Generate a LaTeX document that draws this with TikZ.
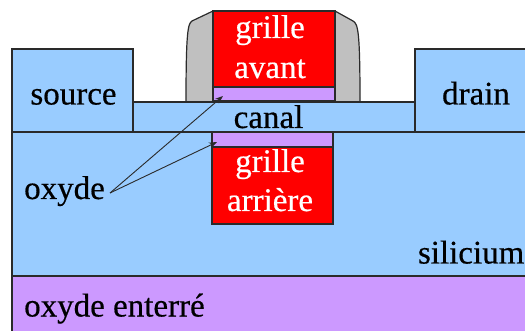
\documentclass[tikz,border=0pt]{standalone}
\usepackage{fontspec}
\setmainfont[RawFeature={embolden=0.5}]{Liberation Serif}
\usetikzlibrary{arrows.meta}
\definecolor{sil}{HTML}{99CCFF}
\definecolor{oxy}{HTML}{CC99FF}
\definecolor{gat}{HTML}{FF0000}
\definecolor{spc}{HTML}{C0C0C0}
\definecolor{edge}{HTML}{2A2A2A}
\tikzset{
  layer/.style={draw=edge,line width=1.4pt,inner sep=0pt,outer sep=0pt,anchor=north west},
  lbl/.style={inner sep=0pt,text=black,font=\fontsize{33}{33}\selectfont},
  wlbl/.style={lbl,text=white},
  pointer/.style={draw=edge,line width=0.9pt,-{Stealth[length=8pt,width=6pt]}}
}
\begin{document}
\begin{tikzpicture}[x=1pt,y=-1pt]
\useasboundingbox (0,0) rectangle (525,331);
\clip (0,0) rectangle (525,331);
\fill[white] (0,0) rectangle (525,331);
% spacers
\draw[edge,fill=spc,line width=1.2pt] (213,11) -- (192,21) .. controls (188,24) and (186,30) .. (186,102) -- (360,102) .. controls (360,30) and (358,24) .. (353,21) -- (335,11) -- cycle;
\node[layer,fill=sil,minimum width=530pt,minimum height=144pt] (si) at (12,132) {};
\node[layer,fill=oxy,minimum width=530pt,minimum height=70pt] (box) at (12,276) {};
\node[layer,fill=sil,minimum width=121pt,minimum height=83pt] (src) at (12,49) {};
\node[layer,fill=sil,minimum width=130pt,minimum height=83pt] (drn) at (415,49) {};
\node[layer,fill=sil,minimum width=282pt,minimum height=30pt] (can) at (133,102) {};
\node[layer,fill=gat,minimum width=122pt,minimum height=76pt] (fg) at (213,11) {};
\node[layer,fill=oxy,minimum width=122pt,minimum height=14pt] (fox) at (213,87) {};
\node[layer,fill=oxy,minimum width=121pt,minimum height=15pt] (box2) at (212,132) {};
\node[layer,fill=gat,minimum width=121pt,minimum height=77pt] (bg) at (212,147) {};
\node[lbl,anchor=base] (tsrc) at (73.5,104.5) {source};
\node[lbl,anchor=base] (tdrn) at (476,104.5) {drain};
\node[lbl,anchor=base] (tcan) at (268.5,128) {canal};
\node[lbl,anchor=base west] (tox) at (24,199) {oxyde};
\node[lbl,anchor=base east] (tsi) at (524.5,263.5) {silicium};
\node[lbl,anchor=base west] (tbox) at (24,316.5) {oxyde enterré};
\node[wlbl,anchor=base] (g1) at (270,38) {grille};
\node[wlbl,anchor=base] (g2) at (270,78) {avant};
\node[wlbl,anchor=base] (g3) at (270,172) {grille};
\node[wlbl,anchor=base] (g4) at (270,211) {arrière};
\coordinate (a1) at (223,96);
\coordinate (a2) at (217,142);
\coordinate (st) at (110,193);
\draw[pointer] (st) -- (a1);
\draw[pointer] (st) -- (a2);
\end{tikzpicture}
\end{document}
